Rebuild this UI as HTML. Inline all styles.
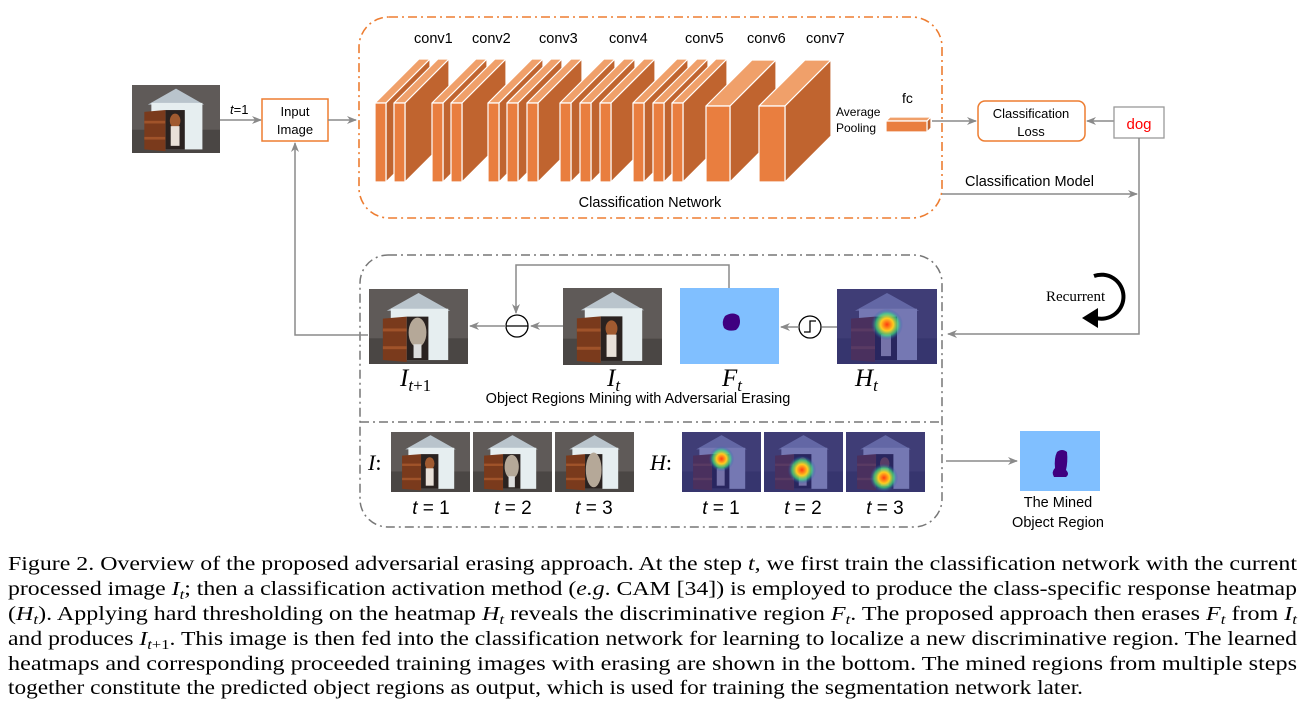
<!DOCTYPE html>
<html><head><meta charset="utf-8"><style>
html,body{margin:0;padding:0;background:#fff;}
svg{display:block;}
.s{font-family:"Liberation Sans",sans-serif;}
.r{font-family:"Liberation Serif",serif;}
</style></head><body>
<svg width="1307" height="725" viewBox="0 0 1307 725" xmlns="http://www.w3.org/2000/svg">
<defs>
<marker id="ah" markerWidth="10" markerHeight="8" refX="9" refY="4" orient="auto" markerUnits="userSpaceOnUse">
<path d="M0,0 L10,4 L0,8 L3,4 Z" fill="#8a8a8a"/></marker>
<g id="house">
<rect x="0" y="0" width="100" height="76" fill="#5f5a58"/>
<rect x="0" y="50" width="100" height="26" fill="#4a4644"/>
<polygon points="18,22 50,4 82,22" fill="#b9c4cc"/>
<rect x="22" y="20" width="58" height="52" fill="#e6eef0"/>
<rect x="38" y="28" width="22" height="44" fill="#2a2220"/>
<polygon points="14,30 38,28 38,74 14,72" fill="#7a3a1c"/>
<rect x="14" y="40" width="24" height="3" fill="#a0532a"/>
<rect x="14" y="58" width="24" height="3" fill="#a0532a"/>
</g>
<g id="dog"><ellipse cx="49" cy="40" rx="6" ry="8" fill="#a05a30"/><rect x="44" y="46" width="10" height="22" fill="#e8e0d8"/></g>
<g id="erase"><ellipse cx="49" cy="44" rx="9" ry="15" fill="#b5a898"/><rect x="45" y="56" width="8" height="14" fill="#ddd"/></g>
<g id="blue"><rect x="0" y="0" width="100" height="76" fill="#2a2a8a" opacity="0.6"/></g>
<radialGradient id="hot"><stop offset="0" stop-color="#ff3a10"/><stop offset="0.4" stop-color="#ffcc20"/><stop offset="0.7" stop-color="#40e080" stop-opacity="0.7"/><stop offset="1" stop-color="#2040c0" stop-opacity="0"/></radialGradient>
</defs>

<rect x="359" y="17" width="583" height="201" rx="30" fill="none" stroke="#ed7d31" stroke-width="1.6" stroke-dasharray="9,4,2,4"/>

<g class="s" font-size="14.5" fill="#000">
<text x="414" y="43">conv1</text><text x="472" y="43">conv2</text><text x="539" y="43">conv3</text>
<text x="609" y="43">conv4</text><text x="685" y="43">conv5</text><text x="747" y="43">conv6</text><text x="806" y="43">conv7</text>
</g>

<g stroke="#fff" stroke-width="1.2" stroke-linejoin="round">
<polygon points="375,103 419,59 430,59 386,103" fill="#f0a06a"/><polygon points="386,103 430,59 430,138 386,182" fill="#c0642f"/><rect x="375" y="103" width="11" height="79" fill="#e97e3f"/>
<polygon points="394,103 438,59 449,59 405,103" fill="#f0a06a"/><polygon points="405,103 449,59 449,138 405,182" fill="#c0642f"/><rect x="394" y="103" width="11" height="79" fill="#e97e3f"/>
<polygon points="432,103 476,59 487,59 443,103" fill="#f0a06a"/><polygon points="443,103 487,59 487,138 443,182" fill="#c0642f"/><rect x="432" y="103" width="11" height="79" fill="#e97e3f"/>
<polygon points="451,103 495,59 506,59 462,103" fill="#f0a06a"/><polygon points="462,103 506,59 506,138 462,182" fill="#c0642f"/><rect x="451" y="103" width="11" height="79" fill="#e97e3f"/>
<polygon points="488,103 532,59 543,59 499,103" fill="#f0a06a"/><polygon points="499,103 543,59 543,138 499,182" fill="#c0642f"/><rect x="488" y="103" width="11" height="79" fill="#e97e3f"/>
<polygon points="507,103 551,59 562,59 518,103" fill="#f0a06a"/><polygon points="518,103 562,59 562,138 518,182" fill="#c0642f"/><rect x="507" y="103" width="11" height="79" fill="#e97e3f"/>
<polygon points="527,103 571,59 582,59 538,103" fill="#f0a06a"/><polygon points="538,103 582,59 582,138 538,182" fill="#c0642f"/><rect x="527" y="103" width="11" height="79" fill="#e97e3f"/>
<polygon points="560,103 604,59 615,59 571,103" fill="#f0a06a"/><polygon points="571,103 615,59 615,138 571,182" fill="#c0642f"/><rect x="560" y="103" width="11" height="79" fill="#e97e3f"/>
<polygon points="580,103 624,59 635,59 591,103" fill="#f0a06a"/><polygon points="591,103 635,59 635,138 591,182" fill="#c0642f"/><rect x="580" y="103" width="11" height="79" fill="#e97e3f"/>
<polygon points="600,103 644,59 655,59 611,103" fill="#f0a06a"/><polygon points="611,103 655,59 655,138 611,182" fill="#c0642f"/><rect x="600" y="103" width="11" height="79" fill="#e97e3f"/>
<polygon points="633,103 677,59 688,59 644,103" fill="#f0a06a"/><polygon points="644,103 688,59 688,138 644,182" fill="#c0642f"/><rect x="633" y="103" width="11" height="79" fill="#e97e3f"/>
<polygon points="653,103 697,59 708,59 664,103" fill="#f0a06a"/><polygon points="664,103 708,59 708,138 664,182" fill="#c0642f"/><rect x="653" y="103" width="11" height="79" fill="#e97e3f"/>
<polygon points="672,103 716,59 727,59 683,103" fill="#f0a06a"/><polygon points="683,103 727,59 727,138 683,182" fill="#c0642f"/><rect x="672" y="103" width="11" height="79" fill="#e97e3f"/>
<polygon points="706,106 752,60 776,60 730,106" fill="#f0a06a"/><polygon points="730,106 776,60 776,136 730,182" fill="#c0642f"/><rect x="706" y="106" width="24" height="76" fill="#e97e3f"/>
<polygon points="759,106 805,60 831,60 785,106" fill="#f0a06a"/><polygon points="785,106 831,60 831,136 785,182" fill="#c0642f"/><rect x="759" y="106" width="26" height="76" fill="#e97e3f"/>
<polygon points="886,121 890,117 931,117 927,121" fill="#f0a06a"/><polygon points="927,121 931,117 931,128 927,132" fill="#c0642f"/><rect x="886" y="121" width="41" height="11" fill="#e97e3f"/>
</g>
<g class="s" fill="#000">
<text x="836" y="116" font-size="12">Average</text><text x="836" y="132" font-size="12">Pooling</text>
<text x="902" y="103" font-size="14">fc</text>
<text x="650" y="207" font-size="14.5" text-anchor="middle">Classification Network</text>
</g>

<svg x="132" y="85" width="88" height="68" viewBox="0 0 100 76" preserveAspectRatio="none"><use href="#house"/><use href="#dog"/></svg>
<text x="230" y="114" class="s" font-size="13"><tspan font-style="italic">t</tspan>=1</text>
<line x1="220" y1="120" x2="261" y2="120" stroke="#8a8a8a" stroke-width="1.5" marker-end="url(#ah)"/>
<rect x="262" y="99" width="66" height="42" fill="#fff" stroke="#ed7d31" stroke-width="1.5"/>
<text x="295" y="116" class="s" font-size="13" text-anchor="middle">Input</text>
<text x="295" y="134" class="s" font-size="13" text-anchor="middle">Image</text>
<line x1="328" y1="120" x2="356" y2="120" stroke="#8a8a8a" stroke-width="1.5" marker-end="url(#ah)"/>

<line x1="932" y1="121" x2="976" y2="121" stroke="#8a8a8a" stroke-width="1.5" marker-end="url(#ah)"/>
<rect x="978" y="101" width="107" height="40" rx="7" fill="#fff" stroke="#ed7d31" stroke-width="1.5"/>
<text x="1031" y="118" class="s" font-size="13" text-anchor="middle">Classification</text>
<text x="1031" y="136" class="s" font-size="13" text-anchor="middle">Loss</text>
<line x1="1114" y1="121" x2="1087" y2="121" stroke="#8a8a8a" stroke-width="1.5" marker-end="url(#ah)"/>
<rect x="1114" y="107" width="50" height="31" fill="#fff" stroke="#999" stroke-width="1.3"/>
<text x="1139" y="129" class="s" font-size="15" fill="#ff0000" text-anchor="middle">dog</text>

<text x="965" y="186" class="s" font-size="14.5">Classification Model</text>
<line x1="942" y1="194" x2="1137" y2="194" stroke="#8a8a8a" stroke-width="1.5" marker-end="url(#ah)"/>
<polyline points="1139,138 1139,334 948,334" fill="none" stroke="#8a8a8a" stroke-width="1.5" marker-end="url(#ah)"/>

<path d="M1094,276 A22,22 0 1 1 1096,318" fill="none" stroke="#000" stroke-width="4"/>
<polygon points="1082,318 1098,308 1098,328" fill="#000"/>
<text x="1046" y="301" font-family="Liberation Serif, serif" font-size="15">Recurrent</text>

<rect x="360" y="255" width="582" height="272" rx="28" fill="none" stroke="#777" stroke-width="1.5" stroke-dasharray="9,4,2,4"/>
<line x1="360" y1="422" x2="942" y2="422" stroke="#777" stroke-width="1.5" stroke-dasharray="9,4,2,4"/>

<svg x="369" y="289" width="99" height="75" viewBox="0 0 100 76" preserveAspectRatio="none"><use href="#house"/><use href="#erase"/></svg>
<svg x="563" y="288" width="99" height="77" viewBox="0 0 100 76" preserveAspectRatio="none"><use href="#house"/><use href="#dog"/></svg>
<rect x="680" y="288" width="99" height="76" fill="#80bfff"/>
<path d="M725,316 Q733,311 739,316 Q742,325 736,330 Q728,332 724,328 Q721,322 725,316 Z" fill="#3f0080"/>
<svg x="837" y="289" width="100" height="75" viewBox="0 0 100 76" preserveAspectRatio="none"><use href="#house"/><use href="#dog"/><use href="#blue"/><circle cx="50" cy="36" r="16" fill="url(#hot)"/></svg>

<line x1="563" y1="326" x2="531" y2="326" stroke="#8a8a8a" stroke-width="1.5" marker-end="url(#ah)"/>
<circle cx="517" cy="326" r="11" fill="#fff" stroke="#000" stroke-width="1.3"/>
<line x1="506" y1="326" x2="528" y2="326" stroke="#000" stroke-width="1.3"/>
<line x1="506" y1="326" x2="470" y2="326" stroke="#8a8a8a" stroke-width="1.5" marker-end="url(#ah)"/>
<polyline points="729,288 729,265 516,265 516,313" fill="none" stroke="#8a8a8a" stroke-width="1.5" marker-end="url(#ah)"/>
<line x1="837" y1="327" x2="822" y2="327" stroke="#8a8a8a" stroke-width="1.5"/>
<circle cx="810" cy="327" r="11" fill="#fff" stroke="#000" stroke-width="1.3"/>
<polyline points="804,332 810,332 810,321 816,321" fill="none" stroke="#000" stroke-width="1.3"/>
<line x1="799" y1="327" x2="781" y2="327" stroke="#8a8a8a" stroke-width="1.5" marker-end="url(#ah)"/>
<polyline points="368,335 295,335 295,143" fill="none" stroke="#8a8a8a" stroke-width="1.5" marker-end="url(#ah)"/>

<g font-family="Liberation Serif, serif" font-size="25" font-style="italic" fill="#000">
<text x="400" y="386">I<tspan font-size="17" dy="5">t</tspan><tspan font-size="17" font-style="normal">+1</tspan></text>
<text x="607" y="386">I<tspan font-size="17" dy="5">t</tspan></text>
<text x="722" y="386">F<tspan font-size="17" dy="5">t</tspan></text>
<text x="855" y="386">H<tspan font-size="17" dy="5">t</tspan></text>
</g>
<text x="638" y="403" class="s" font-size="14.5" text-anchor="middle">Object Regions Mining with Adversarial Erasing</text>

<text x="368" y="470" font-family="Liberation Serif, serif" font-size="22" font-style="italic">I<tspan font-style="normal">:</tspan></text>
<svg x="391" y="432" width="79" height="60" viewBox="0 0 100 76" preserveAspectRatio="none"><use href="#house"/><use href="#dog"/></svg>
<svg x="473" y="432" width="79" height="60" viewBox="0 0 100 76" preserveAspectRatio="none"><use href="#house"/><use href="#erase"/></svg>
<svg x="555" y="432" width="79" height="60" viewBox="0 0 100 76" preserveAspectRatio="none"><use href="#house"/><ellipse cx="49" cy="48" rx="10" ry="22" fill="#b5a898"/></svg>
<text x="650" y="470" font-family="Liberation Serif, serif" font-size="22" font-style="italic">H<tspan font-style="normal">:</tspan></text>
<svg x="682" y="432" width="79" height="60" viewBox="0 0 100 76" preserveAspectRatio="none"><use href="#house"/><use href="#dog"/><use href="#blue"/><circle cx="50" cy="34" r="16" fill="url(#hot)"/></svg>
<svg x="764" y="432" width="79" height="60" viewBox="0 0 100 76" preserveAspectRatio="none"><use href="#house"/><use href="#dog"/><use href="#blue"/><circle cx="48" cy="48" r="18" fill="url(#hot)"/></svg>
<svg x="846" y="432" width="79" height="60" viewBox="0 0 100 76" preserveAspectRatio="none"><use href="#house"/><use href="#dog"/><use href="#blue"/><circle cx="48" cy="58" r="18" fill="url(#hot)"/></svg>
<g class="s" font-size="19" text-anchor="middle">
<text x="431" y="514"><tspan font-style="italic">t</tspan> = 1</text>
<text x="513" y="514"><tspan font-style="italic">t</tspan> = 2</text>
<text x="594" y="514"><tspan font-style="italic">t</tspan> = 3</text>
<text x="721" y="514"><tspan font-style="italic">t</tspan> = 1</text>
<text x="803" y="514"><tspan font-style="italic">t</tspan> = 2</text>
<text x="885" y="514"><tspan font-style="italic">t</tspan> = 3</text>
</g>

<line x1="946" y1="461" x2="1017" y2="461" stroke="#8a8a8a" stroke-width="1.5" marker-end="url(#ah)"/>
<rect x="1020" y="431" width="80" height="60" fill="#80bfff"/>
<path d="M1057,452 Q1062,448 1067,452 Q1068,462 1066,470 Q1070,474 1066,477 L1054,477 Q1051,472 1055,468 Q1054,458 1057,452 Z" fill="#3f0080"/>
<text x="1058" y="507" class="s" font-size="14.5" text-anchor="middle">The Mined</text>
<text x="1058" y="527" class="s" font-size="14.5" text-anchor="middle">Object Region</text>

<g font-family="Liberation Serif, serif" font-size="20" fill="#000">
<text x="8" y="570" textLength="1289" lengthAdjust="spacingAndGlyphs">Figure 2. Overview of the proposed adversarial erasing approach.  At the step <tspan font-style="italic">t</tspan>, we first train the classification network with the current</text>
<text x="8" y="595" textLength="1289" lengthAdjust="spacingAndGlyphs">processed image <tspan font-style="italic">I</tspan><tspan font-size="14" dy="4" font-style="italic">t</tspan><tspan dy="-4">; then a classification activation method (</tspan><tspan font-style="italic">e.g</tspan>. CAM [34]) is employed to produce the class-specific response heatmap</text>
<text x="8" y="620" textLength="1289" lengthAdjust="spacingAndGlyphs">(<tspan font-style="italic">H</tspan><tspan font-size="14" dy="4" font-style="italic">t</tspan><tspan dy="-4">). Applying hard thresholding on the heatmap </tspan><tspan font-style="italic">H</tspan><tspan font-size="14" dy="4" font-style="italic">t</tspan><tspan dy="-4"> reveals the discriminative region </tspan><tspan font-style="italic">F</tspan><tspan font-size="14" dy="4" font-style="italic">t</tspan><tspan dy="-4">. The proposed approach then erases </tspan><tspan font-style="italic">F</tspan><tspan font-size="14" dy="4" font-style="italic">t</tspan><tspan dy="-4"> from </tspan><tspan font-style="italic">I</tspan><tspan font-size="14" dy="4" font-style="italic">t</tspan></text>
<text x="8" y="645" textLength="1289" lengthAdjust="spacingAndGlyphs">and produces <tspan font-style="italic">I</tspan><tspan font-size="14" dy="4" font-style="italic">t</tspan><tspan font-size="14">+1</tspan><tspan dy="-4">. This image is then fed into the classification network for learning to localize a new discriminative region. The learned</tspan></text>
<text x="8" y="670" textLength="1289" lengthAdjust="spacingAndGlyphs">heatmaps and corresponding proceeded training images with erasing are shown in the bottom.  The mined regions from multiple steps</text>
<text x="8" y="694" textLength="1075" lengthAdjust="spacingAndGlyphs">together constitute the predicted object regions as output, which is used for training the segmentation network later.</text>
</g>
</svg>
</body></html>
